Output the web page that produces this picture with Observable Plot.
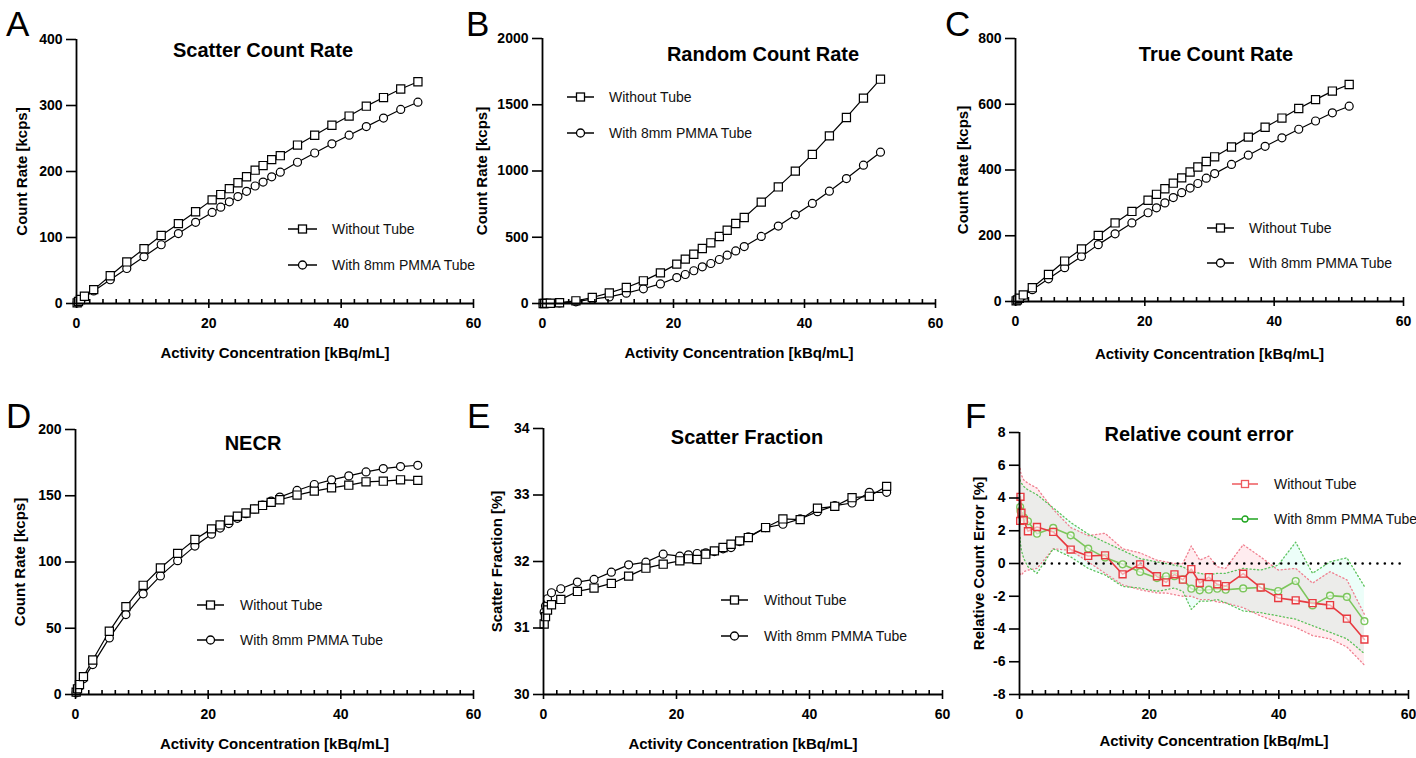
<!DOCTYPE html>
<html><head><meta charset="utf-8">
<script src="https://cdn.jsdelivr.net/npm/d3@7"></script>
<script src="https://cdn.jsdelivr.net/npm/@observablehq/plot@0.6"></script>
<style>
body{margin:0;background:#fff;}
#root{position:relative;width:1416px;height:758px;overflow:hidden;font-family:"Liberation Sans",Arial,sans-serif;color:#000;}
.pn{position:absolute;}
.letter{position:absolute;font-family:"Liberation Sans",Arial,sans-serif;font-size:35px;line-height:normal;color:#000;}
.title{position:absolute;font-weight:bold;font-size:20px;transform:translate(-50%,-50%);white-space:nowrap;}
.leg{position:absolute;font-size:14px;white-space:nowrap;display:flex;align-items:center;transform:translateY(-50%);color:#111;}
.leg svg{display:block;overflow:visible;}
</style></head><body><div id="root"></div>
<script>
// ---------- data ----------
const series = ["Without Tube", "With 8mm PMMA Tube"];
const xLabel = "Activity Concentration [kBq/mL]";
const conc = [0.1, 0.3, 0.6, 1.2, 2.6, 5.1, 7.6, 10.2, 12.8, 15.4, 18.0, 20.5, 21.8, 23.1, 24.4, 25.7, 27.0, 28.2, 29.5, 30.8, 33.4, 36.0, 38.6, 41.2, 43.8, 46.4, 49.0, 51.6];
const scatterNoTube = [1, 3, 6, 11, 21, 42, 63, 83, 103, 121, 139, 157, 165, 174, 183, 192, 202, 209, 218, 224, 240, 255, 270, 284, 299, 312, 325, 336];
const scatterTube = [1, 3, 5.5, 10, 19, 36, 53, 71, 89, 106, 123, 138, 146, 154, 162, 170, 178, 184, 192, 199, 214, 228, 242, 255, 268, 281, 294, 305];
const randomNoTube = [0.05, 0.3, 1, 2, 6, 20, 45, 80, 121, 171, 231, 297, 335, 372, 415, 458, 506, 553, 604, 649, 765, 880, 999, 1125, 1265, 1404, 1550, 1693];
const randomTube = [0.03, 0.2, 0.6, 1.2, 4, 13, 33, 50, 78, 111, 148, 196, 219, 247, 277, 302, 332, 365, 397, 430, 506, 584, 669, 755, 848, 943, 1044, 1142];
const trueNoTube = [2, 5, 10, 20, 42, 82, 123, 160, 201, 239, 274, 308, 326, 343, 360, 376, 394, 409, 426, 440, 470, 500, 530, 558, 587, 614, 640, 660];
const trueTube = [2, 5, 9, 18, 36, 69, 103, 137, 173, 206, 239, 270, 285, 300, 316, 331, 345, 359, 375, 389, 417, 445, 472, 498, 524, 549, 574, 594];
const necrNoTube = [1.8, 4.3, 7.5, 13.5, 26, 47.7, 66.3, 82.4, 95.5, 106.5, 117, 125, 128, 131.5, 134.5, 137, 140, 142.7, 145, 147, 150.5, 153.5, 156, 158, 160.5, 161, 162, 161.6];
const necrTube = [1.3, 3, 6, 11.8, 22.6, 42.7, 60.3, 76, 89.5, 101, 112, 121, 125.6, 129, 133, 136.5, 140, 143, 146, 149, 154, 158.5, 162, 165, 168, 170.5, 172, 173];
const sfNoTube = [31.06, 31.17, 31.27, 31.35, 31.43, 31.55, 31.60, 31.67, 31.78, 31.90, 31.96, 32.01, 32.04, 32.03, 32.11, 32.16, 32.21, 32.26, 32.31, 32.36, 32.51, 32.64, 32.63, 32.80, 32.83, 32.96, 32.98, 33.13];
const sfTube = [31.24, 31.33, 31.44, 31.53, 31.59, 31.69, 31.73, 31.84, 31.95, 31.99, 32.11, 32.08, 32.10, 32.12, 32.13, 32.15, 32.19, 32.21, 32.30, 32.37, 32.51, 32.56, 32.64, 32.75, 32.84, 32.88, 33.04, 33.04];

// panel F (relative count error)
const concF = [0.1, 0.15, 0.3, 0.66, 1.3, 2.7, 5.2, 7.9, 10.6, 13.2, 15.9, 18.6, 21.2, 22.6, 23.9, 25.2, 26.5, 27.8, 29.2, 30.5, 31.8, 34.5, 37.2, 39.9, 42.6, 45.2, 47.9, 50.5, 53.2];
const errNoTube = [2.6, 4.07, 3.1, 2.64, 1.97, 2.23, 1.93, 0.85, 0.46, 0.5, -0.66, -0.05, -0.78, -1.15, -0.66, -0.99, -0.34, -1.19, -0.83, -1.27, -1.38, -0.62, -1.47, -2.11, -2.25, -2.42, -2.54, -3.37, -4.64];
const errNoTubeHi = [5.8, 5.6, 5.4, 5.1, 4.9, 4.6, 3.3, 2.2, 1.7, 1.85, 0.9, 0.65, 0.2, 0.1, 0.0, 0.0, 1.07, 0.2, 0.45, -0.2, -0.3, 1.15, 0.4, -0.4, -0.3, -1.2, -0.5, -1.0, -3.1];
const errNoTubeLo = [-0.6, -0.7, -0.7, -0.5, -0.4, -0.3, 0.9, 0.8, 0.1, -0.6, -1.3, -1.6, -1.8, -1.8, -1.9, -2.0, -2.0, -2.2, -2.2, -2.35, -2.4, -2.7, -3.2, -3.6, -3.9, -4.4, -4.6, -5.1, -6.2];
const errTube = [3.45, 3.2, 2.9, 2.8, 2.58, 1.82, 2.17, 1.72, 0.91, 0.36, -0.05, -0.52, -0.89, -0.78, -0.78, -0.97, -1.54, -1.64, -1.6, -1.54, -1.6, -1.52, -1.47, -1.68, -1.07, -2.56, -1.96, -2.04, -3.52];
const errTubeHi = [5.1, 5.0, 4.9, 4.7, 4.5, 4.2, 3.4, 2.5, 1.8, 1.3, 0.8, 0.3, 0.1, 0.0, -0.1, -0.2, -0.5, -0.6, -0.7, -0.6, -0.6, -0.3, -0.4, -0.1, 1.3, -0.6, 0.1, 0.35, -1.4];
const errTubeLo = [1.6, 1.2, 0.8, 0.3, -0.2, -0.6, 0.9, 0.4, -0.3, -0.7, -1.4, -1.5, -1.7, -1.6, -1.5, -1.7, -2.8, -2.3, -2.3, -2.2, -2.4, -2.9, -3.0, -3.2, -3.4, -3.8, -4.2, -4.6, -5.5];
const zeroLine = {from: 0.5, to: 59.2};

// ---------- helpers ----------
const FONT = "'Liberation Sans', Arial, sans-serif";
const minorTicks = d3.range(2, 61, 2);
function pairRows(xs, a, b) {
  return xs.flatMap((x, i) => [{x, y: a[i], s: series[0]}, {x, y: b[i], s: series[1]}]);
}
const fmt = d => String(d);

const panels = [
  {id: "A", title: "Scatter Count Rate", left: 0, top: 0, width: 480, height: 375, x0: 76, x60: 473, yTop: 39, yBot: 303,
   yDomain: [0, 400], yTicks: [0, 100, 200, 300, 400], yLabel: "Count Rate [kcps]", yLabOff: 60, xLabOff: 54,
   rows: pairRows(conc, scatterNoTube, scatterTube), titleXY: [263, 50], letterXY: [6, 4],
   leg: {iconL: 288, iconR: 317, textL: 332, y1: 229, y2: 265}},
  {id: "B", title: "Random Count Rate", left: 470, top: 0, width: 470, height: 375, x0: 542, x60: 935, yTop: 38, yBot: 303,
   yDomain: [0, 2000], yTicks: [0, 500, 1000, 1500, 2000], yLabel: "Count Rate [kcps]", yLabOff: 66, xLabOff: 54,
   rows: pairRows(conc, randomNoTube, randomTube), titleXY: [763, 54], letterXY: [466, 4],
   leg: {iconL: 567, iconR: 594, textL: 609, y1: 97, y2: 133}},
  {id: "C", title: "True Count Rate", left: 940, top: 0, width: 476, height: 375, x0: 1015, x60: 1403, yTop: 38, yBot: 301,
   yDomain: [0, 800], yTicks: [0, 200, 400, 600, 800], yLabel: "Count Rate [kcps]", yLabOff: 58, xLabOff: 57,
   rows: pairRows(conc, trueNoTube, trueTube), titleXY: [1216, 54], letterXY: [945, 4],
   leg: {iconL: 1207, iconR: 1234, textL: 1249, y1: 228, y2: 263}},
  {id: "D", title: "NECR", left: 0, top: 380, width: 480, height: 378, x0: 75, x60: 473, yTop: 429, yBot: 694,
   yDomain: [0, 200], yTicks: [0, 50, 100, 150, 200], yLabel: "Count Rate [kcps]", yLabOff: 61, xLabOff: 54,
   rows: pairRows(conc, necrNoTube, necrTube), titleXY: [253, 443], letterXY: [6, 396],
   leg: {iconL: 197, iconR: 224, textL: 240, y1: 605, y2: 640}},
  {id: "E", title: "Scatter Fraction", left: 470, top: 380, width: 480, height: 378, x0: 543, x60: 942, yTop: 428, yBot: 694,
   yDomain: [30, 34], yTicks: [30, 31, 32, 33, 34], yLabel: "Scatter Fraction [%]", yLabOff: 52, xLabOff: 54,
   rows: pairRows(conc, sfNoTube, sfTube), titleXY: [747, 437], letterXY: [467, 396],
   leg: {iconL: 721, iconR: 748, textL: 764, y1: 600, y2: 636}},
  {id: "F", title: "Relative count error", left: 940, top: 380, width: 476, height: 378, x0: 1019, x60: 1408, yTop: 432, yBot: 694,
   yDomain: [-8, 8], yTicks: [-8, -6, -4, -2, 0, 2, 4, 6, 8], yLabel: "Relative Count Error [%]", yLabOff: 46, xLabOff: 51,
   titleXY: [1199, 434], letterXY: [965, 396], colored: true,
   leg: {iconL: 1232, iconR: 1258, textL: 1274, y1: 484, y2: 519}}
];

const RED = "#e83a40", GREEN = "#7cc65c";
const styleF = [
  {stroke: RED, legStroke: "#ee5a5e", symbol: "square", r: 3.9, band: "#ff4060", bandOp: 0.1, bandLine: "#f08090"},
  {stroke: GREEN, legStroke: "#1fa51f", symbol: "circle", r: 3.4, band: "#30f0c0", bandOp: 0.09, bandLine: "#5cc25c"}
];

function axes(p, frameH) {
  return [
    Plot.ruleY([p.yDomain[0]], {stroke: "#000", strokeWidth: 1.8}),
    Plot.ruleX([0], {stroke: "#000", strokeWidth: 1.8}),
    Plot.tickX(minorTicks, {x: d => d, insetTop: frameH - 4, stroke: "#000", strokeWidth: 1.6}),
    Plot.axisY({ticks: p.yTicks, tickSize: 10, tickPadding: 4, tickFormat: fmt, fontSize: 14, fontWeight: "bold", label: null, strokeWidth: 1.6}),
    Plot.axisY({ticks: [], label: p.yLabel, labelAnchor: "center", labelOffset: p.yLabOff, labelArrow: "none", fontSize: 15, fontWeight: "bold"}),
    Plot.axisX({ticks: [0, 20, 40, 60], tickSize: 5, tickPadding: 10, tickFormat: fmt, fontSize: 14, fontWeight: "bold", label: null, strokeWidth: 1.6}),
    Plot.axisX({ticks: [], label: xLabel, labelAnchor: "center", labelOffset: p.xLabOff, labelArrow: "none", fontSize: 15, fontWeight: "bold"})
  ];
}

function makePlot(p) {
  const mL = p.x0 - p.left, mR = p.left + p.width - p.x60, mT = p.yTop - p.top, mB = p.top + p.height - p.yBot;
  const frameH = p.yBot - p.yTop;
  let marks = [];
  if (!p.colored) {
    marks = [
      Plot.line(p.rows, {x: "x", y: "y", z: "s", stroke: "#000", strokeWidth: 1.2}),
      Plot.dot(p.rows.filter(d => d.s === series[1]), {x: "x", y: "y", symbol: "circle", r: 4, stroke: "#000", fill: "#fff", strokeWidth: 1.2}),
      Plot.dot(p.rows.filter(d => d.s === series[0]), {x: "x", y: "y", symbol: "square", r: 4.6, stroke: "#000", fill: "#fff", strokeWidth: 1.2})
    ];
  } else {
    const groups = [
      {mean: errNoTube, hi: errNoTubeHi, lo: errNoTubeLo},
      {mean: errTube, hi: errTubeHi, lo: errTubeLo}
    ].map((g, k) => concF.map((x, i) => ({x, y: g.mean[i], hi: g.hi[i], lo: g.lo[i], s: series[k]})));
    groups.forEach((rows, k) => {
      const st = styleF[k];
      marks.push(Plot.areaY(rows, {x: "x", y1: "lo", y2: "hi", fill: st.band, fillOpacity: st.bandOp}));
    });
    groups.forEach((rows, k) => {
      const st = styleF[k];
      marks.push(Plot.line(rows, {x: "x", y: "hi", stroke: st.bandLine, strokeWidth: 1.3, strokeDasharray: "1.2 2.6"}));
      marks.push(Plot.line(rows, {x: "x", y: "lo", stroke: st.bandLine, strokeWidth: 1.3, strokeDasharray: "1.2 2.6"}));
    });
    marks.push(Plot.ruleY([0], {x1: zeroLine.from, x2: zeroLine.to, stroke: "#000", strokeWidth: 2.6, strokeDasharray: "0 7.4", strokeLinecap: "round"}));
    [1, 0].forEach(k => {
      const st = styleF[k], rows = groups[k];
      marks.push(Plot.line(rows, {x: "x", y: "y", stroke: st.stroke, strokeWidth: 1.6}));
      marks.push(Plot.dot(rows, {x: "x", y: "y", symbol: st.symbol, r: st.r, stroke: st.stroke, fill: "#fff", fillOpacity: 0.6, strokeWidth: 1.4}));
    });
  }
  return Plot.plot({
    width: p.width, height: p.height,
    marginLeft: mL, marginRight: mR, marginTop: mT, marginBottom: mB,
    x: {domain: [0, 60]}, y: {domain: p.yDomain},
    style: {fontFamily: FONT, fontWeight: "bold", color: "#000", background: "transparent", overflow: "visible"},
    marks: [...marks, ...axes(p, frameH)]
  });
}

function legendIcon(w, stroke, symbol, size) {
  const ns = "http://www.w3.org/2000/svg";
  const svg = document.createElementNS(ns, "svg");
  svg.setAttribute("width", w); svg.setAttribute("height", 14);
  const line = document.createElementNS(ns, "line");
  line.setAttribute("x1", 0); line.setAttribute("x2", w); line.setAttribute("y1", 7); line.setAttribute("y2", 7);
  line.setAttribute("stroke", stroke); line.setAttribute("stroke-width", 1.5);
  svg.appendChild(line);
  let m;
  if (symbol === "square") {
    m = document.createElementNS(ns, "rect");
    m.setAttribute("x", w / 2 - size / 2); m.setAttribute("y", 7 - size / 2);
    m.setAttribute("width", size); m.setAttribute("height", size);
  } else {
    m = document.createElementNS(ns, "circle");
    m.setAttribute("cx", w / 2); m.setAttribute("cy", 7); m.setAttribute("r", size / 2);
  }
  m.setAttribute("fill", "#fff"); m.setAttribute("stroke", stroke); m.setAttribute("stroke-width", 1.3);
  svg.appendChild(m);
  return svg;
}

const root = document.getElementById("root");
panels.forEach(p => {
  const holder = document.createElement("div");
  holder.className = "pn";
  holder.style.left = p.left + "px"; holder.style.top = p.top + "px";
  holder.appendChild(makePlot(p));
  root.appendChild(holder);

  const letter = document.createElement("div");
  letter.className = "letter"; letter.textContent = p.id;
  letter.style.left = p.letterXY[0] + "px"; letter.style.top = p.letterXY[1] + "px";
  root.appendChild(letter);

  const title = document.createElement("div");
  title.className = "title"; title.textContent = p.title;
  title.style.left = p.titleXY[0] + "px"; title.style.top = p.titleXY[1] + "px";
  root.appendChild(title);

  series.forEach((name, k) => {
    const L = p.leg;
    const item = document.createElement("div");
    item.className = "leg";
    item.style.left = L.iconL + "px";
    item.style.top = (k === 0 ? L.y1 : L.y2) + "px";
    const w = L.iconR - L.iconL;
    const stroke = p.colored ? styleF[k].legStroke : "#000";
    const sym = k === 0 ? "square" : "circle";
    const size = p.colored ? (k === 0 ? 7 : 6) : 8;
    item.appendChild(legendIcon(w, stroke, sym, size));
    const span = document.createElement("span");
    span.textContent = name;
    span.style.marginLeft = (L.textL - L.iconR) + "px";
    item.appendChild(span);
    root.appendChild(item);
  });
});
</script></body></html>
